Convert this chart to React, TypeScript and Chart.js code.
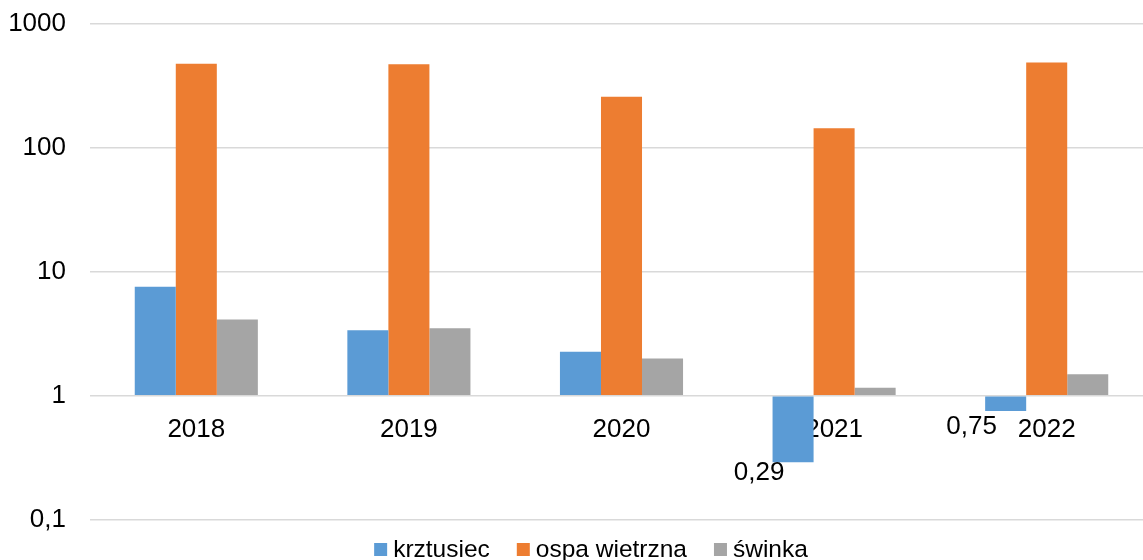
import React, { useEffect, useRef } from "react";
import { Chart, registerables } from "chart.js";

Chart.register(...registerables);

const CATEGORIES = ["2018", "2019", "2020", "2021", "2022"];
const SERIES_NAMES = ["krztusiec", "ospa wietrzna", "świnka"];
const KRZTUSIEC = [7.55, 3.37, 2.26, 0.29, 0.75];
const OSPA_WIETRZNA = [477, 474, 259, 144, 488];
const SWINKA = [4.12, 3.5, 1.99, 1.16, 1.49];
const Y_TICKS = [0.1, 1, 10, 100, 1000];
const COLORS = ["#5B9BD5", "#ED7D31", "#A5A5A5"];

const FONT = '"Liberation Sans", Arial, sans-serif';
const fmt = (v: number) => String(v).replace(".", ",");

const valueLabels = {
  id: "valueLabels",
  afterDatasetsDraw(chart: any) {
    const ctx = chart.ctx;
    const y = chart.scales.y;
    const axisY = y.getPixelForValue(1);
    ctx.save();
    ctx.font = `26px ${FONT}`;
    ctx.fillStyle = "#000";
    ctx.textAlign = "center";
    ctx.textBaseline = "alphabetic";
    chart.data.datasets.forEach((ds: any, di: number) => {
      const meta = chart.getDatasetMeta(di);
      ds.data.forEach((v: number, i: number) => {
        if (v >= 1) return;
        const el = meta.data[i];
        const ty = Math.max(el.y + 18, axisY + 38.5);
        ctx.fillText(fmt(v), el.x - 34, ty);
      });
    });
    ctx.restore();
  },
};

const customLegend = {
  id: "customLegend",
  afterDraw(chart: any) {
    const ctx = chart.ctx;
    ctx.save();
    ctx.font = `24.5px ${FONT}`;
    ctx.textBaseline = "alphabetic";
    const box = 13;
    const gap = 6;
    const itemGap = 27;
    const items = chart.data.datasets.map((ds: any) => ({
      label: ds.label,
      color: ds.backgroundColor,
      w: ctx.measureText(ds.label).width,
    }));
    const total =
      items.reduce((s: number, it: any) => s + box + gap + it.w, 0) +
      itemGap * (items.length - 1);
    let x = 591 - total / 2;
    const baseline = 557;
    items.forEach((it: any) => {
      ctx.fillStyle = it.color;
      ctx.fillRect(x, 543, box, box);
      x += box + gap;
      ctx.fillStyle = "#000";
      ctx.textAlign = "left";
      ctx.fillText(it.label, x, baseline);
      x += it.w + itemGap;
    });
    ctx.restore();
  },
};

export default function App() {
  const ref = useRef<HTMLCanvasElement | null>(null);

  useEffect(() => {
    if (!ref.current) return;
    const series = [KRZTUSIEC, OSPA_WIETRZNA, SWINKA];
    const chart = new Chart(ref.current, {
      type: "bar",
      data: {
        labels: CATEGORIES,
        datasets: series.map((d, i) => ({
          label: SERIES_NAMES[i],
          data: d,
          backgroundColor: COLORS[i],
          borderWidth: 0,
          base: 1,
          categoryPercentage: 0.579,
          barPercentage: 1,
        })),
      },
      options: {
        responsive: false,
        animation: false,
        layout: { padding: { top: 24, bottom: 55.5, left: 0, right: 0 } },
        plugins: {
          legend: { display: false },
          tooltip: { enabled: false },
        },
        scales: {
          y: {
            type: "logarithmic",
            min: 0.1,
            max: 1000,
            afterBuildTicks: (scale: any) => {
              scale.ticks = Y_TICKS.map((v) => ({ value: v }));
            },
            afterFit: (scale: any) => {
              scale.width = 90;
              scale.paddingTop = 0;
              scale.paddingBottom = 0;
            },
            ticks: {
              callback: (v: any) => fmt(Number(v)),
              font: { family: FONT, size: 26 },
              color: "#000",
              padding: 24,
            },
            grid: {
              color: "#d9d9d9",
              lineWidth: 1.5,
              drawTicks: false,
            },
            border: { display: false },
          },
          x: {
            type: "category",
            position: { y: 1 } as any,
            grid: { display: false, drawTicks: false },
            border: { display: false },
            ticks: {
              font: { family: FONT, size: 26 },
              color: "#000",
              padding: 19,
              maxRotation: 0,
            },
          },
        },
      },
      plugins: [valueLabels, customLegend],
    });
    return () => chart.destroy();
  }, []);

  return (
    <div
      style={{
        position: "fixed",
        left: 0,
        top: 0,
        width: 1143,
        height: 560,
        overflow: "hidden",
        background: "#fff",
      }}
    >
      <canvas ref={ref} width={1153} height={575} style={{ display: "block" }} />
    </div>
  );
}
